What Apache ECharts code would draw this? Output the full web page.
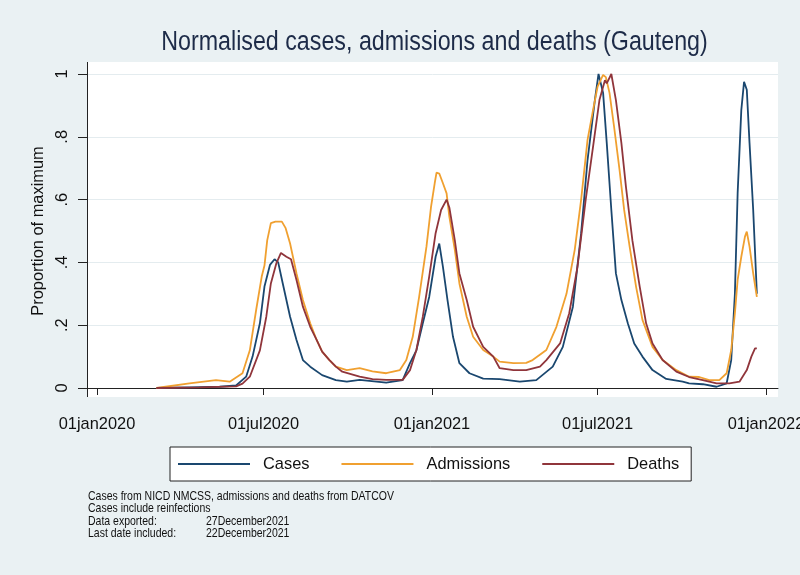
<!DOCTYPE html>
<html><head><meta charset="utf-8">
<script src="https://cdn.jsdelivr.net/npm/echarts@6/dist/echarts.min.js"></script>
<style>html,body{margin:0;padding:0;background:#eaf1f3}#c{width:800px;height:575px}</style>
</head><body><div id="c"></div>
<script>
const titleText = 'Normalised cases, admissions and deaths (Gauteng)';
const yAxisName = 'Proportion of maximum';
const xTickDates = ['2020-01-01','2020-07-01','2021-01-01','2021-07-01','2022-01-01'];
const yTickValues = [0, 0.2, 0.4, 0.6, 0.8, 1];
const seriesNames = ['Cases', 'Admissions', 'Deaths'];
const notes = ['Cases from NICD NMCSS, admissions and deaths from DATCOV', 'Cases include reinfections'];
const noteLabels = ['Data exported:', 'Last date included:'];
const noteValues = ['27December2021', '22December2021'];

const casesDates = ['2020-03-06','2020-04-11','2020-05-14','2020-06-01','2020-06-12','2020-06-19','2020-06-27','2020-07-02','2020-07-08','2020-07-13','2020-07-17','2020-07-22','2020-07-30','2020-08-06','2020-08-13','2020-08-21','2020-09-03','2020-09-18','2020-09-30','2020-10-14','2020-11-12','2020-11-30','2020-12-08','2020-12-15','2020-12-22','2020-12-29','2021-01-05','2021-01-09','2021-01-13','2021-01-18','2021-01-24','2021-01-31','2021-02-11','2021-02-26','2021-03-16','2021-04-07','2021-04-25','2021-05-13','2021-05-24','2021-06-04','2021-06-13','2021-06-20','2021-06-28','2021-07-02','2021-07-07','2021-07-11','2021-07-16','2021-07-21','2021-07-27','2021-08-03','2021-08-10','2021-08-19','2021-08-30','2021-09-14','2021-10-02','2021-10-09','2021-10-24','2021-11-08','2021-11-19','2021-11-24','2021-11-28','2021-12-01','2021-12-05','2021-12-08','2021-12-11','2021-12-14','2021-12-18','2021-12-22'];
const casesValues = [0,0.002,0.004,0.008,0.036,0.10,0.206,0.323,0.392,0.41,0.40,0.333,0.227,0.153,0.089,0.068,0.041,0.025,0.02,0.026,0.017,0.025,0.079,0.12,0.206,0.29,0.418,0.46,0.386,0.28,0.163,0.079,0.047,0.03,0.028,0.02,0.025,0.068,0.131,0.259,0.493,0.726,0.917,1.0,0.94,0.78,0.567,0.365,0.28,0.206,0.142,0.10,0.057,0.029,0.02,0.015,0.012,0.004,0.015,0.089,0.30,0.62,0.885,0.975,0.95,0.78,0.567,0.30];

const admDates = ['2020-03-06','2020-04-11','2020-05-10','2020-05-25','2020-06-08','2020-06-16','2020-06-23','2020-06-29','2020-07-02','2020-07-05','2020-07-09','2020-07-14','2020-07-21','2020-07-25','2020-07-30','2020-08-06','2020-08-13','2020-08-21','2020-08-28','2020-09-03','2020-09-11','2020-09-18','2020-09-30','2020-10-14','2020-10-28','2020-11-12','2020-11-27','2020-12-04','2020-12-11','2020-12-18','2020-12-26','2020-12-31','2021-01-04','2021-01-06','2021-01-09','2021-01-13','2021-01-17','2021-01-20','2021-01-26','2021-01-31','2021-02-08','2021-02-15','2021-02-26','2021-03-09','2021-03-16','2021-03-31','2021-04-14','2021-04-21','2021-05-06','2021-05-17','2021-05-28','2021-06-06','2021-06-13','2021-06-20','2021-06-26','2021-07-01','2021-07-07','2021-07-10','2021-07-14','2021-07-19','2021-07-25','2021-07-30','2021-08-05','2021-08-12','2021-08-19','2021-08-30','2021-09-10','2021-09-25','2021-10-09','2021-10-20','2021-10-31','2021-11-11','2021-11-19','2021-11-24','2021-11-28','2021-12-01','2021-12-05','2021-12-09','2021-12-11','2021-12-14','2021-12-18','2021-12-22'];
const admValues = [0,0.015,0.025,0.02,0.047,0.12,0.25,0.355,0.39,0.47,0.525,0.53,0.53,0.51,0.46,0.365,0.28,0.206,0.153,0.116,0.089,0.068,0.057,0.063,0.053,0.047,0.057,0.089,0.163,0.29,0.45,0.577,0.652,0.686,0.683,0.652,0.62,0.546,0.44,0.333,0.227,0.163,0.121,0.10,0.084,0.079,0.08,0.089,0.121,0.195,0.30,0.44,0.6,0.79,0.885,0.96,0.997,0.99,0.94,0.832,0.694,0.567,0.45,0.323,0.217,0.131,0.089,0.057,0.036,0.035,0.025,0.025,0.047,0.121,0.238,0.344,0.418,0.482,0.498,0.45,0.365,0.29];

const deathDates = ['2020-03-06','2020-04-22','2020-06-01','2020-06-08','2020-06-16','2020-06-27','2020-07-04','2020-07-09','2020-07-15','2020-07-20','2020-07-26','2020-07-31','2020-08-06','2020-08-13','2020-08-21','2020-08-28','2020-09-03','2020-09-11','2020-09-18','2020-09-25','2020-10-14','2020-10-28','2020-11-12','2020-11-30','2020-12-08','2020-12-15','2020-12-22','2020-12-29','2021-01-05','2021-01-11','2021-01-17','2021-01-20','2021-01-26','2021-01-31','2021-02-08','2021-02-15','2021-02-26','2021-03-09','2021-03-16','2021-03-31','2021-04-14','2021-04-29','2021-05-06','2021-05-21','2021-05-31','2021-06-09','2021-06-18','2021-06-26','2021-07-03','2021-07-09','2021-07-11','2021-07-16','2021-07-21','2021-07-27','2021-08-01','2021-08-08','2021-08-16','2021-08-23','2021-08-30','2021-09-10','2021-09-25','2021-10-09','2021-10-24','2021-11-08','2021-11-22','2021-12-03','2021-12-11','2021-12-16','2021-12-20','2021-12-22'];
const deathValues = [0,0.002,0.005,0.014,0.036,0.12,0.227,0.333,0.397,0.43,0.418,0.41,0.344,0.259,0.195,0.153,0.116,0.089,0.068,0.052,0.036,0.028,0.026,0.026,0.057,0.121,0.227,0.355,0.493,0.567,0.60,0.575,0.47,0.365,0.28,0.195,0.131,0.10,0.063,0.057,0.057,0.068,0.089,0.142,0.238,0.386,0.60,0.768,0.917,0.98,0.97,1.0,0.917,0.78,0.64,0.47,0.323,0.206,0.142,0.089,0.052,0.035,0.025,0.015,0.015,0.02,0.057,0.10,0.126,0.126];

const colors = ['#1a476f', '#f0a030', '#90353b'];

// Detect whether the narrow face is installed; otherwise fall back to regular at a width-matched size.
function hasFont(name) {
  const c = document.createElement('canvas').getContext('2d');
  const s = 'abcdefghijklmnopqrstuvwxyz0123456789';
  c.font = '40px monospace'; const a = c.measureText(s).width;
  c.font = '40px "' + name + '", monospace'; const b = c.measureText(s).width;
  return Math.abs(a - b) > 1;
}
const NARROW = hasFont('Liberation Sans Narrow');
const FONT = NARROW ? '"Liberation Sans Narrow", "Liberation Sans", Arial, sans-serif' : '"Liberation Sans", Arial, sans-serif';
const K = NARROW ? 1 : 0.82;
const FS = 20 * K;
// graphic texts can be squeezed horizontally to imitate the narrow face
const SX = NARROW ? 1 : 0.82;

function ts(s) { const p = s.split('-').map(Number); return Date.UTC(p[0], p[1] - 1, p[2]); }
function pairs(d, v) { return d.map((s, i) => [ts(s), v[i]]); }
const MON = ['jan','feb','mar','apr','may','jun','jul','aug','sep','oct','nov','dec'];
function fmtDate(t) { const d = new Date(t); return String(d.getUTCDate()).padStart(2, '0') + MON[d.getUTCMonth()] + d.getUTCFullYear(); }
const DAY = 86400000;
const xTicks = xTickDates.map(ts);
const xMin = xTicks[0] - 10.9 * DAY;
const xMax = xTicks[4] + 13.1 * DAY;

const chart = echarts.init(document.getElementById('c'), null, { renderer: 'canvas' });
const dataSets = [pairs(casesDates, casesValues), pairs(admDates, admValues), pairs(deathDates, deathValues)];

function note(text, x, y) {
  return { type: 'text', x: x, y: y, scaleX: SX, style: { text: text, fontSize: 12.8, fill: '#111', verticalAlign: 'middle', fontFamily: FONT } };
}

chart.setOption({
  backgroundColor: '#eaf1f3',
  animation: false,
  textStyle: { fontFamily: FONT },
  grid: { left: 87, right: 22, top: 74, bottom: 187, containLabel: false, outerBoundsMode: 'none' },
  xAxis: {
    type: 'value', min: xMin, max: xMax,
    offset: 9,
    axisLine: { show: true, lineStyle: { color: '#222', width: 1 } },
    axisTick: { show: true, length: 7, lineStyle: { color: '#222' }, customValues: xTicks },
    axisLabel: { customValues: xTicks, formatter: v => fmtDate(v), color: '#111', fontSize: FS, margin: 19, fontFamily: FONT },
    splitLine: { show: false }
  },
  yAxis: {
    type: 'value', min: 0, max: 1, interval: 0.2,
    name: yAxisName, nameLocation: 'middle', nameGap: 37, nameRotate: 90,
    nameTextStyle: { fontSize: FS, color: '#111', fontFamily: FONT },
    axisLine: { show: false },
    axisTick: { show: true, length: 9, lineStyle: { color: '#222' } },
    axisLabel: { rotate: 90, fontSize: FS, color: '#111', margin: 17, fontFamily: FONT,
      formatter: v => { const r = Math.round(v * 10) / 10; return r === 0 ? '0' : (r === 1 ? '1' : String(r).replace(/^0/, '')); } },
    splitLine: { show: true, lineStyle: { color: '#e4ecef', width: 1 } }
  },
  legend: {
    left: 170, top: 447,
    data: seriesNames,
    icon: 'rect', itemWidth: 72, itemHeight: 2, itemGap: 32,
    backgroundColor: '#ffffff', borderColor: '#222', borderWidth: 1,
    padding: [9, 12, 9, 8],
    textStyle: { fontSize: FS, color: '#111', fontFamily: FONT, padding: [0, 0, 0, 8] }
  },
  series: seriesNames.map((n, i) => ({
    name: n, type: 'line', data: dataSets[i], showSymbol: false, symbol: 'none',
    lineStyle: { color: colors[i], width: 1.8 }, itemStyle: { color: colors[i] }, z: 3 + i
  })),
  graphic: [
    { type: 'rect', z: -10, shape: { x: 87, y: 62, width: 691, height: 335 }, style: { fill: '#ffffff' } },
    { type: 'line', z: 10, shape: { x1: 87.5, y1: 62, x2: 87.5, y2: 397 }, style: { stroke: '#222', lineWidth: 1 } },
    { type: 'text', x: 434.5, y: 43, scaleX: NARROW ? 1 : 0.861, style: { text: titleText, fontSize: NARROW ? 28 : 27, fill: '#1d2b48', align: 'center', verticalAlign: 'middle', fontFamily: FONT } },
    note(notes[0], 88, 496),
    note(notes[1], 88, 508.5),
    note(noteLabels[0], 88, 521),
    note(noteValues[0], 206, 521),
    note(noteLabels[1], 88, 533.5),
    note(noteValues[1], 206, 533.5)
  ]
});
</script>
</body></html>
